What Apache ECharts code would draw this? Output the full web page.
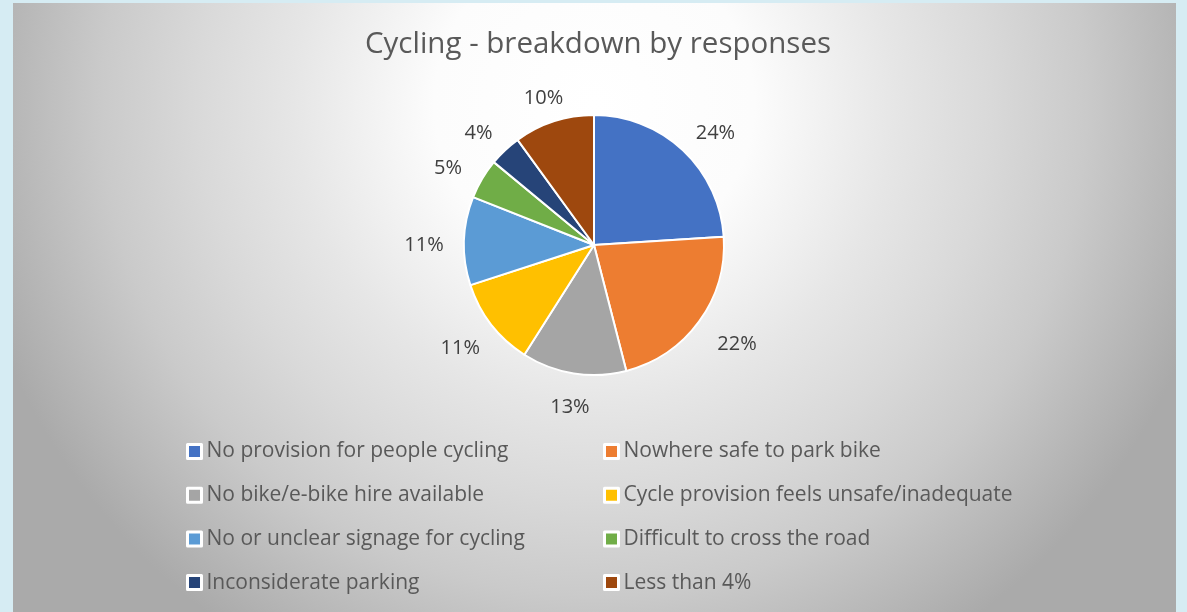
<!DOCTYPE html>
<html>
<head>
<meta charset="utf-8">
<title>Cycling - breakdown by responses</title>
<script src="https://cdn.jsdelivr.net/npm/echarts@6/dist/echarts.min.js"></script>
<style>
  html, body { margin: 0; padding: 0; width: 1187px; height: 612px; overflow: hidden; background: #d6ecf3; }
  #panel {
    position: absolute; left: 13px; top: 3px; width: 1163px; height: 609px;
    background: radial-gradient(ellipse 640px 640px at 581px 100px,
      #ffffff 0%, #fcfcfc 25%, #e6e6e6 47%, #d9d9d9 62%, #cacaca 77%, #b8b8b8 90%, #aaaaaa 100%);
  }
  #chart { position: absolute; left: 0; top: 0; width: 1187px; height: 612px; }
</style>
</head>
<body>
<div id="panel"></div>
<div id="chart"></div>
<script>
// Survey responses for cycling, as a share of all responses (%)
const categories = [
  'No provision for people cycling',
  'Nowhere safe to park bike',
  'No bike/e-bike hire available',
  'Cycle provision feels unsafe/inadequate',
  'No or unclear signage for cycling',
  'Difficult to cross the road',
  'Inconsiderate parking',
  'Less than 4%'
];
const shares = [24, 22, 13, 11, 11, 5, 4, 10];
const sliceColors = ['#4472c4', '#ed7d31', '#a5a5a5', '#ffc000', '#5b9bd5', '#70ad47', '#264478', '#9e480e'];

const font = '"Open Sans", Lato, sans-serif';
const pieCenter = [594, 245];

const sliceData = categories.map((name, i) => ({
  name, value: shares[i], itemStyle: { color: sliceColors[i] }
}));
const labelData = categories.map((name, i) => ({ name, value: shares[i] }));

const legendBase = {
  orient: 'vertical', top: 441, padding: 0, itemGap: 22.7,
  itemWidth: 14, itemHeight: 14, icon: 'rect', selectedMode: false,
  itemStyle: { borderColor: '#ffffff', borderWidth: 3 },
  textStyle: { fontFamily: font, fontSize: 21, lineHeight: 20, color: '#595959' }
};

const chart = echarts.init(document.getElementById('chart'), null, { renderer: 'canvas' });
chart.setOption({
  backgroundColor: 'transparent',
  animation: false,
  title: {
    text: 'Cycling - breakdown by responses',
    left: 593, top: 25, textAlign: 'center',
    textStyle: { fontFamily: font, fontSize: 29.5, fontWeight: 'normal', color: '#595959' }
  },
  legend: [
    Object.assign({}, legendBase, { left: 186, data: [categories[0], categories[2], categories[4], categories[6]] }),
    Object.assign({}, legendBase, { left: 603, data: [categories[1], categories[3], categories[5], categories[7]] })
  ],
  series: [
    {
      name: 'Responses',
      type: 'pie',
      center: pieCenter,
      radius: [0, 130],
      startAngle: 90,
      clockwise: true,
      silent: true,
      itemStyle: { borderColor: '#ffffff', borderWidth: 2 },
      label: { show: false },
      labelLine: { show: false },
      data: sliceData
    },
    {
      // transparent ring carrying the percentage labels around the pie
      name: 'Labels',
      type: 'pie',
      center: pieCenter,
      radius: [130, 200],
      startAngle: 90,
      clockwise: true,
      silent: true,
      itemStyle: { color: 'rgba(0,0,0,0)', borderWidth: 0 },
      label: {
        show: true, position: 'inside', formatter: '{c}%',
        fontFamily: font, fontSize: 20, color: '#404040'
      },
      labelLine: { show: false },
      // flatten the label ring slightly and drop it a touch below the pie centre
      labelLayout: function (p) {
        const r = p.labelRect;
        const lx = r.x + r.width / 2 - pieCenter[0];
        const ly = r.y + r.height / 2 - pieCenter[1];
        return { dx: lx * 0.03 + 3, dy: -ly * 0.05 + 5 };
      },
      data: labelData
    }
  ]
});
</script>
</body>
</html>
